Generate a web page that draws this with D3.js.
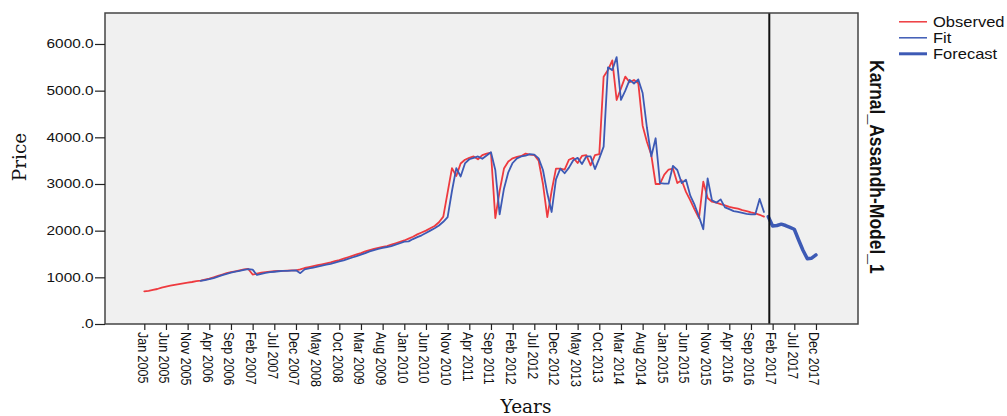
<!DOCTYPE html>
<html>
<head>
<meta charset="utf-8">
<script src="https://cdn.jsdelivr.net/npm/d3@7"></script>
<style>
  html, body { margin: 0; padding: 0; background: #ffffff; }
  svg { display: block; }
</style>
</head>
<body>
<svg id="chart" width="1007" height="416"></svg>
<script>
// Monthly prices, Karnal (Assandh) market: observed series, model fit and forecast.
const observed2005 = [700, 710, 730, 750, 780, 800, 820, 840, 855, 870, 885, 900];
const observed2006 = [920, 930, 950, 970, 1000, 1030, 1060, 1090, 1110, 1130, 1150, 1170];
const observed2007 = [1180, 1060, 1080, 1100, 1110, 1120, 1130, 1140, 1140, 1145, 1150, 1150];
const observed2008 = [1170, 1200, 1220, 1240, 1260, 1280, 1300, 1320, 1345, 1370, 1400, 1430];
const observed2009 = [1460, 1490, 1520, 1555, 1585, 1610, 1630, 1650, 1670, 1700, 1730, 1760];
const observed2010 = [1790, 1830, 1870, 1920, 1960, 2000, 2050, 2100, 2180, 2300, 2820, 3340];
const observed2011 = [3170, 3440, 3520, 3560, 3590, 3530, 3620, 3650, 3670, 2270, 2850, 3330];
const observed2012 = [3480, 3550, 3580, 3600, 3650, 3630, 3620, 3500, 3000, 2290, 2850, 3330];
const observed2013 = [3330, 3310, 3520, 3560, 3450, 3600, 3620, 3400, 3620, 3640, 5300, 5440];
const observed2014 = [5650, 4800, 5050, 5300, 5180, 5230, 5160, 4250, 3900, 3620, 3000, 3000];
const observed2015 = [3200, 3310, 3330, 3020, 3080, 2830, 2650, 2450, 2270, 3050, 2700, 2620];
const observed2016 = [2600, 2570, 2540, 2510, 2490, 2470, 2440, 2420, 2390, 2370, 2340, 2300];

// Fit begins in Feb 2006.
const fit2006 = [925, 940, 960, 985, 1015, 1045, 1075, 1100, 1120, 1140, 1160];
const fit2007 = [1175, 1165, 1050, 1075, 1095, 1110, 1120, 1130, 1140, 1140, 1145, 1150];
const fit2008 = [1090, 1170, 1190, 1210, 1230, 1250, 1270, 1290, 1315, 1340, 1365, 1395];
const fit2009 = [1425, 1455, 1485, 1520, 1555, 1585, 1610, 1630, 1650, 1670, 1700, 1730];
const fit2010 = [1765, 1770, 1820, 1860, 1900, 1950, 2000, 2050, 2110, 2190, 2290, 2850];
const fit2011 = [3340, 3160, 3440, 3530, 3560, 3590, 3540, 3610, 3680, 3300, 2350, 2900];
const fit2012 = [3250, 3450, 3550, 3590, 3610, 3640, 3630, 3550, 3300, 2800, 2400, 3100];
const fit2013 = [3330, 3230, 3350, 3510, 3560, 3430, 3590, 3590, 3320, 3550, 3800, 5500];
const fit2014 = [5440, 5720, 4800, 5000, 5230, 5150, 5240, 4950, 4200, 3590, 3980, 3020];
const fit2015 = [3010, 3010, 3390, 3300, 3020, 3090, 2750, 2550, 2300, 2030, 3120, 2650];
const fit2016 = [2600, 2670, 2500, 2460, 2420, 2400, 2380, 2360, 2350, 2350, 2680, 2400];

// Forecast, Jan 2017 - Dec 2017.
const forecast2017 = [2300, 2100, 2110, 2140, 2110, 2070, 2030, 1800, 1580, 1400, 1410, 1480];

const xTickLabels = ["Jan 2005", "Jun 2005", "Nov 2005", "Apr 2006", "Sep 2006", "Feb 2007",
  "Jul 2007", "Dec 2007", "May 2008", "Oct 2008", "Mar 2009", "Aug 2009", "Jan 2010",
  "Jun 2010", "Nov 2010", "Apr 2011", "Sep 2011", "Feb 2012", "Jul 2012", "Dec 2012",
  "May 2013", "Oct 2013", "Mar 2014", "Aug 2014", "Jan 2015", "Jun 2015", "Nov 2015",
  "Apr 2016", "Sep 2016", "Feb 2017", "Jul 2017", "Dec 2017"];
const yTickValues = [0, 1000, 2000, 3000, 4000, 5000, 6000];
const legendItems = [
  { key: "observed", label: "Observed" },
  { key: "fit", label: "Fit" },
  { key: "forecast", label: "Forecast" }
];
const modelName = "Karnal_Assandh-Model_1";

const monthNames = ["Jan", "Feb", "Mar", "Apr", "May", "Jun", "Jul", "Aug", "Sep", "Oct", "Nov", "Dec"];
const baseYear = 2005;
const fitStart = 13;       // Feb 2006
const forecastStart = 144; // Jan 2017

const observed = [].concat(observed2005, observed2006, observed2007, observed2008, observed2009,
  observed2010, observed2011, observed2012, observed2013, observed2014, observed2015, observed2016);
const fit = [].concat(fit2006, fit2007, fit2008, fit2009, fit2010, fit2011, fit2012, fit2013,
  fit2014, fit2015, fit2016);

const toPoints = (arr, start) => arr.map((v, i) => ({ m: start + i, v }));
const labelToMonth = s => {
  const [mon, yr] = s.split(" ");
  return (+yr - baseYear) * 12 + monthNames.indexOf(mon);
};

const styles = {
  observed: { color: "#ee3a3f", width: 1.8 },
  fit: { color: "#3d5ab5", width: 1.8 },
  forecast: { color: "#3d5ab5", width: 3.5 }
};

const svg = d3.select("#chart");
const plot = { left: 105, top: 13, right: 858, bottom: 324 };

const x = d3.scaleLinear().domain([-9.07, 164.7]).range([plot.left, plot.right]);
const y = d3.scaleLinear().domain([0, 6664]).range([plot.bottom, plot.top]);

// plot background
svg.append("rect")
  .attr("x", plot.left).attr("y", plot.top)
  .attr("width", plot.right - plot.left).attr("height", plot.bottom - plot.top)
  .attr("fill", "#f0f0f0");

const line = d3.line().x(d => x(d.m)).y(d => y(d.v));

svg.append("clipPath").attr("id", "plotClip")
  .append("rect")
  .attr("x", plot.left).attr("y", plot.top)
  .attr("width", plot.right - plot.left).attr("height", plot.bottom - plot.top);

const series = svg.append("g").attr("clip-path", "url(#plotClip)");

const drawSeries = (points, style) => series.append("path")
  .datum(points)
  .attr("d", line)
  .attr("fill", "none")
  .attr("stroke", style.color)
  .attr("stroke-width", style.width)
  .attr("stroke-linejoin", "round")
  .attr("stroke-linecap", "round");

drawSeries(toPoints(observed, 0), styles.observed);
drawSeries(toPoints(fit, fitStart), styles.fit);
drawSeries(toPoints(forecast2017, forecastStart), styles.forecast);

// forecast origin reference line
svg.append("line")
  .attr("x1", x(forecastStart) + 1).attr("x2", x(forecastStart) + 1)
  .attr("y1", plot.top).attr("y2", plot.bottom)
  .attr("stroke", "#111").attr("stroke-width", 2);

// frame
svg.append("rect")
  .attr("x", plot.left).attr("y", plot.top)
  .attr("width", plot.right - plot.left).attr("height", plot.bottom - plot.top)
  .attr("fill", "none")
  .attr("stroke", "#444").attr("stroke-width", 1.5);

const sansFont = "'Liberation Sans', Arial, sans-serif";
const serifFont = "'DejaVu Serif', serif";

// y axis
const yAxis = svg.append("g")
  .attr("transform", `translate(${plot.left},0)`)
  .call(d3.axisLeft(y).tickValues(yTickValues).tickSize(10)
    .tickFormat(d => d === 0 ? ".0" : d3.format(".1f")(d)));
yAxis.select(".domain").remove();
yAxis.selectAll(".tick line").attr("stroke", "#222").attr("stroke-width", 1.2);
yAxis.selectAll(".tick text")
  .attr("font-family", sansFont).attr("font-size", 12).attr("fill", "#111")
  .attr("x", -11.5 / 1.28)
  .attr("transform", "scale(1.28,1)");

// x axis
const xAxis = svg.append("g")
  .attr("transform", `translate(0,${plot.bottom})`)
  .call(d3.axisBottom(x).tickValues(xTickLabels.map(labelToMonth)).tickSize(6)
    .tickFormat((d, i) => xTickLabels[i]));
xAxis.select(".domain").remove();
xAxis.selectAll(".tick line").attr("stroke", "#222").attr("stroke-width", 1.2);
xAxis.selectAll(".tick text")
  .attr("font-family", sansFont).attr("font-size", 12.5).attr("fill", "#111")
  .attr("text-anchor", "start")
  .attr("x", 8).attr("y", 0).attr("dy", "0.5em")
  .attr("transform", "scale(1.15,1) rotate(90)");

// axis titles
svg.append("text")
  .attr("transform", "translate(26,157) rotate(-90)")
  .attr("text-anchor", "middle")
  .attr("font-family", serifFont).attr("font-size", 18.5).attr("fill", "#111")
  .text("Price");

svg.append("text")
  .attr("x", 526).attr("y", 413)
  .attr("text-anchor", "middle")
  .attr("font-family", serifFont).attr("font-size", 18.5).attr("fill", "#111")
  .text("Years");

// model name panel label
svg.append("text")
  .attr("transform", "translate(870,60) scale(1.15,1) rotate(90)")
  .attr("text-anchor", "start")
  .attr("font-family", sansFont).attr("font-weight", "bold").attr("font-size", 17.5)
  .attr("fill", "#111")
  .text(modelName);

// legend
const legend = svg.append("g");
legendItems.forEach((item, i) => {
  const baseline = 27.3 + i * 16;
  legend.append("line")
    .attr("x1", 899).attr("x2", 927)
    .attr("y1", baseline - 5.5).attr("y2", baseline - 5.5)
    .attr("stroke", styles[item.key].color)
    .attr("stroke-width", item.key === "forecast" ? 3 : 1.5);
  legend.append("text")
    .attr("transform", `translate(933,${baseline}) scale(1.18,1)`)
    .attr("font-family", sansFont).attr("font-size", 14).attr("fill", "#111")
    .text(item.label);
});
</script>
</body>
</html>
